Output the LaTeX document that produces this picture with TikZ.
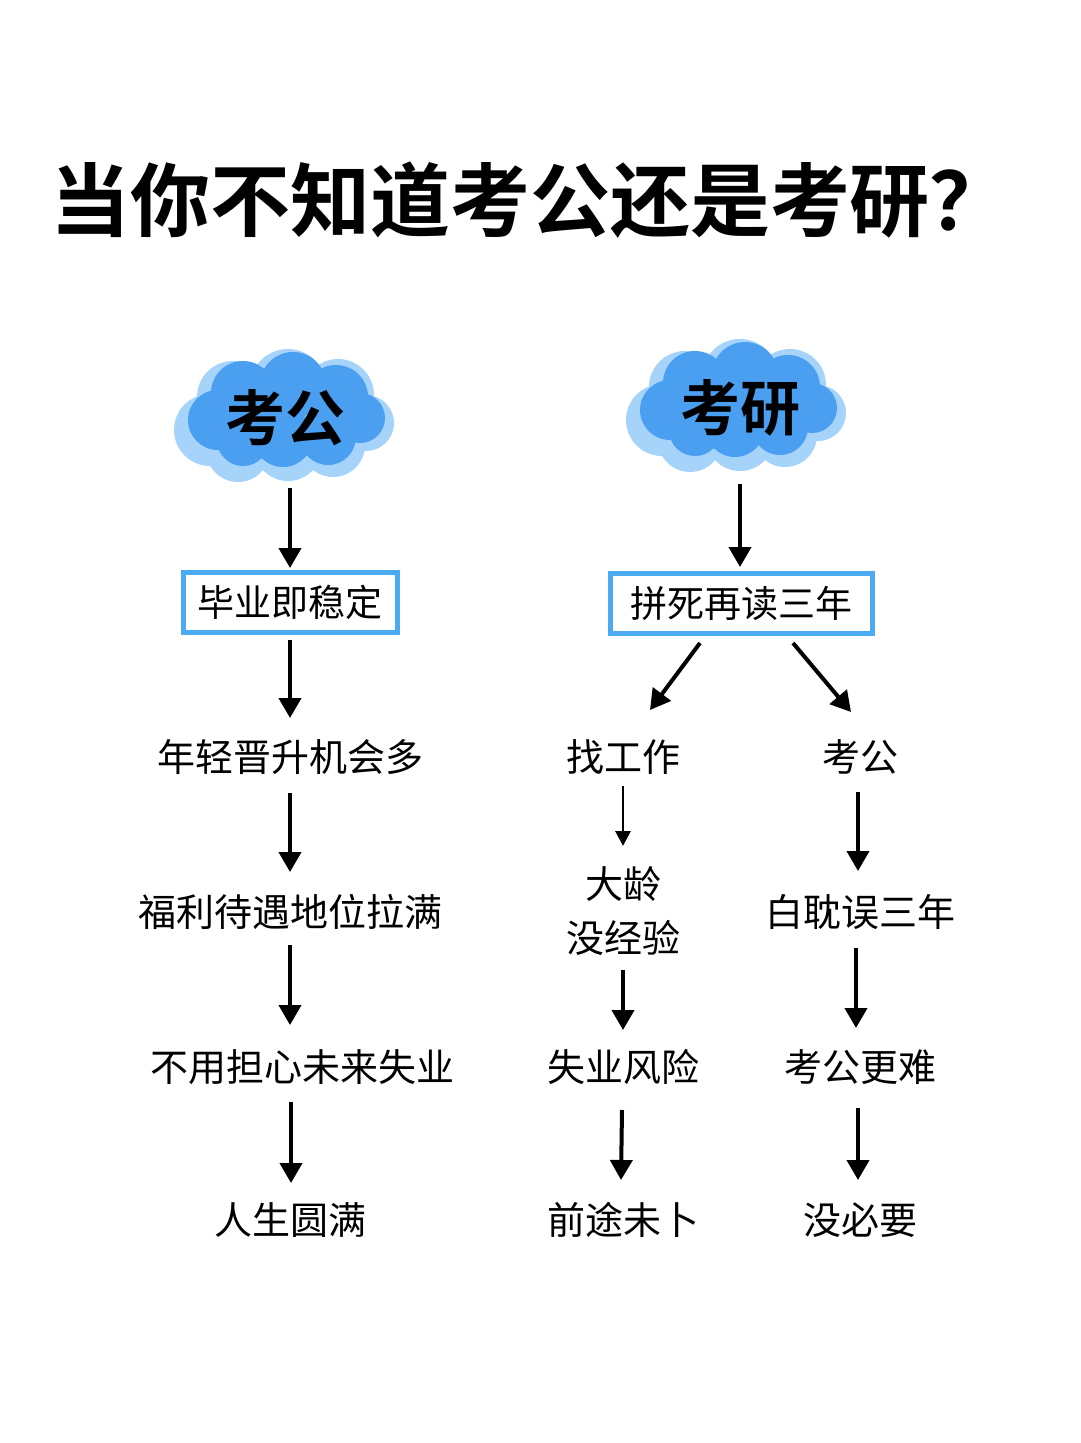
\documentclass[tikz,border=0pt]{standalone}
\usepackage{fontspec}
\setmainfont{Noto Sans CJK SC}
\newfontfamily\boldcjk{Noto Sans CJK SC Bold}
\usetikzlibrary{arrows.meta}
\definecolor{cloudA}{HTML}{4A9FF0}
\definecolor{cloudB}{HTML}{A5D3FA}
\definecolor{boxblue}{HTML}{4AABF2}
\tikzset{
 arr/.style={line width=4pt,-{Triangle[length=20pt,width=22pt]}},
 thinarr/.style={line width=2.8pt,-{Triangle[length=15pt,width=15pt]}},
 lbl/.style={font=\fontsize{38}{42}\selectfont},
 boxed/.style={draw=boxblue,line width=5pt,font=\fontsize{37}{40}\selectfont,minimum height=60pt,inner xsep=8pt},
 cloudtxt/.style={font=\boldcjk\fontsize{60}{64}\selectfont}
}
\newcommand{\mycloud}[2]{%
 \begin{scope}[shift={(#1,#2)}]
  \fill[cloudB] (-78,15) circle (36) (-55,-18) circle (36) (0,-28) circle (38) (50,-20) circle (36) (78,8) circle (28) (45,30) circle (32) (0,32) circle (34) (-50,35) circle (32);
  \fill[cloudA] (-70,5) circle (30) (-45,-22) circle (32) (5,-30) circle (33) (48,-18) circle (32) (72,3) circle (25) (40,22) circle (28) (-5,22) circle (30) (-45,25) circle (26);
 \end{scope}}
\begin{document}
\begin{tikzpicture}[x=1pt,y=-1pt]
\useasboundingbox (0,0) rectangle (1080,1443);
\fill[white] (0,0) rectangle (1080,1443);
\node[font=\boldcjk\fontsize{80}{86}\selectfont] (title) at (530,200) {当你不知道考公还是考研？};
% left
\mycloud{288}{415}
\node[cloudtxt] (kg) at (285,418) {考公};
\node[boxed,minimum width=214pt] (b1) at (290,602) {毕业即稳定};
\node[lbl] (l1) at (290,757) {年轻晋升机会多};
\node[lbl] (l2) at (290,912) {福利待遇地位拉满};
\node[lbl] (l3) at (302,1067) {不用担心未来失业};
\node[lbl] (l4) at (290,1220) {人生圆满};
\coordinate (a0) at (290,488); \coordinate (a0e) at (290,568);
\draw[arr] (a0) -- (a0e);
\coordinate (a1) at (290,640); \coordinate (a1e) at (290,718); \draw[arr] (a1) -- (a1e);
\coordinate (a2) at (290,793); \coordinate (a2e) at (290,872); \draw[arr] (a2) -- (a2e);
\coordinate (a3) at (290,945); \coordinate (a3e) at (290,1025); \draw[arr] (a3) -- (a3e);
\coordinate (a4) at (291,1102); \coordinate (a4e) at (291,1183); \draw[arr] (a4) -- (a4e);
% right
\mycloud{740}{405}
\node[cloudtxt] (ky) at (740,408) {考研};
\node[boxed,minimum width=262pt] (b2) at (741,603) {拼死再读三年};
\node[lbl] (r1) at (623,757) {找工作};
\node[lbl] (s1) at (860,757) {考公};
\node[lbl,align=center] (r2) at (623,911) {大龄\\[12pt]没经验};
\node[lbl] (r3) at (623,1067) {失业风险};
\node[lbl] (r4) at (623,1220) {前途未卜};
\node[lbl] (s2) at (860,912) {白耽误三年};
\node[lbl] (s3) at (860,1067) {考公更难};
\node[lbl] (s4) at (860,1220) {没必要};
\coordinate (c0) at (740,484); \coordinate (c0e) at (740,567); \draw[arr] (c0) -- (c0e);
\coordinate (d1) at (700,643); \coordinate (d1e) at (650,710); \draw[arr] (d1) -- (d1e);
\coordinate (d2) at (793,643); \coordinate (d2e) at (851,712); \draw[arr] (d2) -- (d2e);
\coordinate (e1) at (623,786); \coordinate (e1e) at (623,846); \draw[thinarr] (e1) -- (e1e);
\coordinate (e2) at (623,970); \coordinate (e2e) at (623,1030); \draw[arr] (e2) -- (e2e);
\coordinate (e3) at (622,1110); \coordinate (e3e) at (621,1180); \draw[arr] (e3) -- (e3e);
\coordinate (f1) at (858,792); \coordinate (f1e) at (858,871); \draw[arr] (f1) -- (f1e);
\coordinate (f2) at (856,948); \coordinate (f2e) at (856,1028); \draw[arr] (f2) -- (f2e);
\coordinate (f3) at (858,1108); \coordinate (f3e) at (858,1180); \draw[arr] (f3) -- (f3e);
\end{tikzpicture}
\end{document}
